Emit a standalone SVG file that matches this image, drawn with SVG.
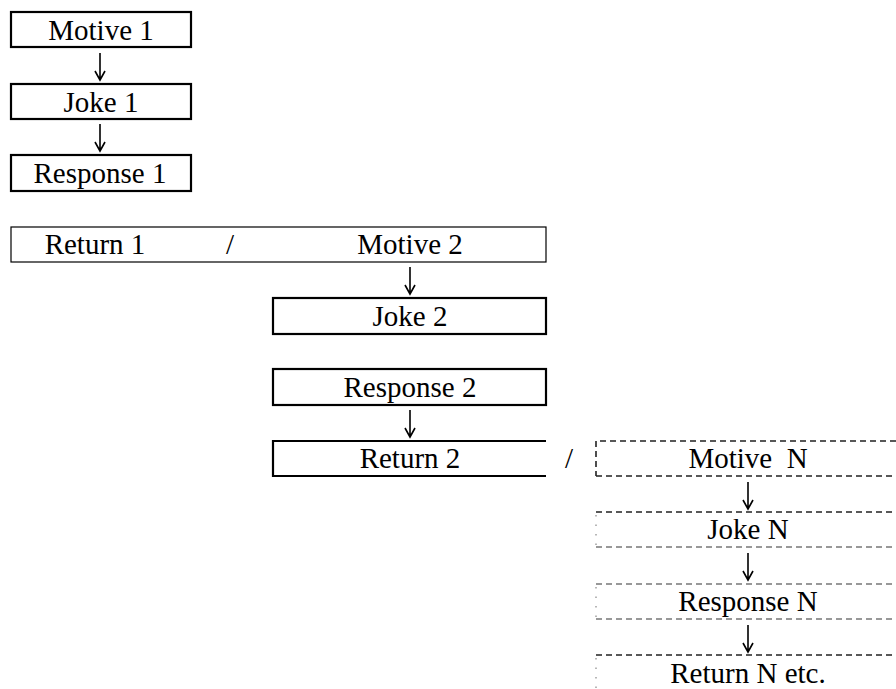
<svg xmlns="http://www.w3.org/2000/svg" width="896" height="689" viewBox="0 0 896 689">
<style>
text{white-space:pre}
.box{fill:none;stroke:#000;stroke-width:2.2}
.thin{fill:none;stroke:#000;stroke-width:1.2}
.dash{fill:none;stroke:#222;stroke-width:1.6;stroke-dasharray:6 4}
.dashl{fill:none;stroke:#777;stroke-width:1.4;stroke-dasharray:6 4}
.dot{fill:none;stroke:#999;stroke-width:1.4;stroke-dasharray:1.5 8}
.arr{fill:none;stroke:#000;stroke-width:1.6}
</style>
<rect width="896" height="689" fill="#fff"/>
<g font-family="Liberation Serif, Tinos, Times New Roman, serif" font-size="29" text-anchor="middle" fill="#000">
<g id="motive1"><rect class="box" x="11" y="12" width="180" height="35"/><text x="101" y="40">Motive 1</text></g>
<g id="joke1"><rect class="box" x="11" y="84" width="180" height="35"/><text x="101" y="112">Joke 1</text></g>
<g id="response1"><rect class="box" x="11" y="155" width="180" height="36"/><text x="100" y="183">Response 1</text></g>
<g id="return1motive2"><rect class="thin" x="11" y="227" width="535" height="35"/><text x="95" y="254">Return 1</text><text x="230" y="254">/</text><text x="410" y="254">Motive 2</text></g>
<g id="joke2"><rect class="box" x="273" y="298" width="273" height="36"/><text x="410" y="326">Joke 2</text></g>
<g id="response2"><rect class="box" x="273" y="369" width="273" height="36"/><text x="410" y="397">Response 2</text></g>
<g id="return2"><path class="box" d="M546 441 H273 V476 H546"/><text x="410" y="468">Return 2</text><text x="569" y="468">/</text></g>
<g id="motiveN"><path class="dash" d="M896 441 H596 M596 476 H896"/><path class="dash" stroke-width="2" d="M596 441 V476"/><text x="748" y="468">Motive  N</text></g>
<g id="jokeN"><path class="dash" stroke-width="2" d="M596 512 H896"/><path class="dashl" d="M596 547 H896"/><path class="dot" d="M596 515 V545"/><text x="748" y="539">Joke N</text></g>
<g id="responseN"><path class="dashl" d="M596 584 H896 M596 619 H896"/><path class="dot" d="M596 587 V617"/><text x="748" y="611">Response N</text></g>
<g id="returnN"><path class="dash" stroke-width="1.8" d="M596 655 H896"/><path class="dot" d="M596 658 V689"/><text x="748" y="683">Return N etc.</text></g>
</g>
<g id="connectors">
<path class="arr" d="M100 53 V80 M95 71 L100 80 L105 71"/>
<path class="arr" d="M100 124 V151 M95 142 L100 151 L105 142"/>
<path class="arr" d="M410 267 V294 M405 285 L410 294 L415 285"/>
<path class="arr" d="M410 410 V437 M405 428 L410 437 L415 428"/>
<path class="arr" d="M748 482 V509 M743 500 L748 509 L753 500"/>
<path class="arr" d="M748 553 V580 M743 571 L748 580 L753 571"/>
<path class="arr" d="M748 625 V652 M743 643 L748 652 L753 643"/>
</g>
</svg>
